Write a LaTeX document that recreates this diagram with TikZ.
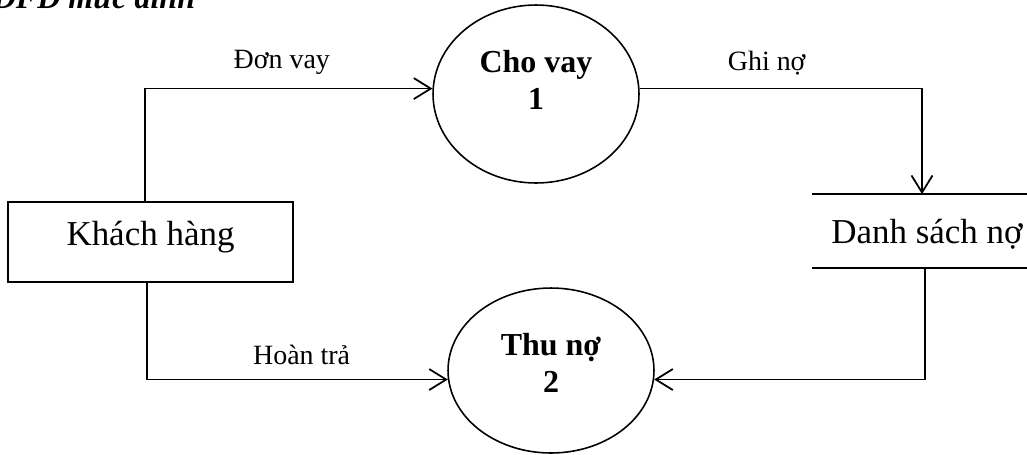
\documentclass[tikz,border=0pt]{standalone}
\usepackage{fontspec}
\setmainfont{Liberation Serif}
\usetikzlibrary{arrows.meta,shapes.geometric}

\begin{document}
\begin{tikzpicture}[x=0.02cm,y=-0.02cm,line width=1pt,
  >={Straight Barb[length=0.34cm,width=0.42cm]},
  flow/.style={->},
  proc/.style={draw,ellipse,line width=0.9pt,minimum width=4.12cm},
  ptext/.style={font=\fontsize{18.2pt}{21pt}\selectfont\bfseries,align=center},
  ext/.style={draw,rectangle,line width=1.1pt,minimum width=5.7cm,minimum height=1.6cm,
    font=\fontsize{19.9pt}{24pt}\selectfont,text height=0.5cm,text depth=0.38cm},
  store/.style={rectangle,minimum width=4.56cm,minimum height=1.44cm,
    font=\fontsize{19.9pt}{24pt}\selectfont,text height=0.6cm,text depth=0.12cm},
  lbl/.style={font=\fontsize{15.9pt}{19pt}\selectfont,anchor=base}]
\clip (0,0) rectangle (1027,454);
% heading, cut at the top edge
\node[anchor=base west,inner sep=0pt,font=\fontsize{18.2pt}{22pt}\selectfont\bfseries\itshape]
  (heading) at (-8,8) {DFD mức đỉnh};
% external entity, processes and data store
\node[ext] (kh) at (150.5,242) {Khách hàng};
\node[proc,minimum height=3.56cm] (p1) at (536,94) {};
\node[proc,minimum height=3.3cm] (p2) at (551,370.5) {};
\node[ptext] (p1 text) at ([yshift=0.28cm]p1.center) {Cho vay\\1};
\node[ptext] (p2 text) at ([yshift=0.15cm]p2.center) {Thu nợ\\2};
\node[store] (ds) at (927,231) {Danh sách nợ};
\draw (ds.north west) -- (ds.north east);
\draw (ds.south west) -- (ds.south east);
% data flows
\draw[flow] ([xshift=-0.11cm]kh.north) |- (p1.177)
  node[lbl,pos=0.738,yshift=0.4cm] {Đơn vay};
\draw[flow] (p1.3) -| ([xshift=-0.1cm]ds.north)
  node[lbl,pos=0.225,yshift=0.36cm] {Ghi nợ};
\draw[flow] ([xshift=-0.07cm]kh.south) |- (p2.185)
  node[lbl,pos=0.757,yshift=0.3cm] {Hoàn trả};
\draw[flow] ([xshift=-0.04cm]ds.south) |- (p2.355);
\end{tikzpicture}
\end{document}
